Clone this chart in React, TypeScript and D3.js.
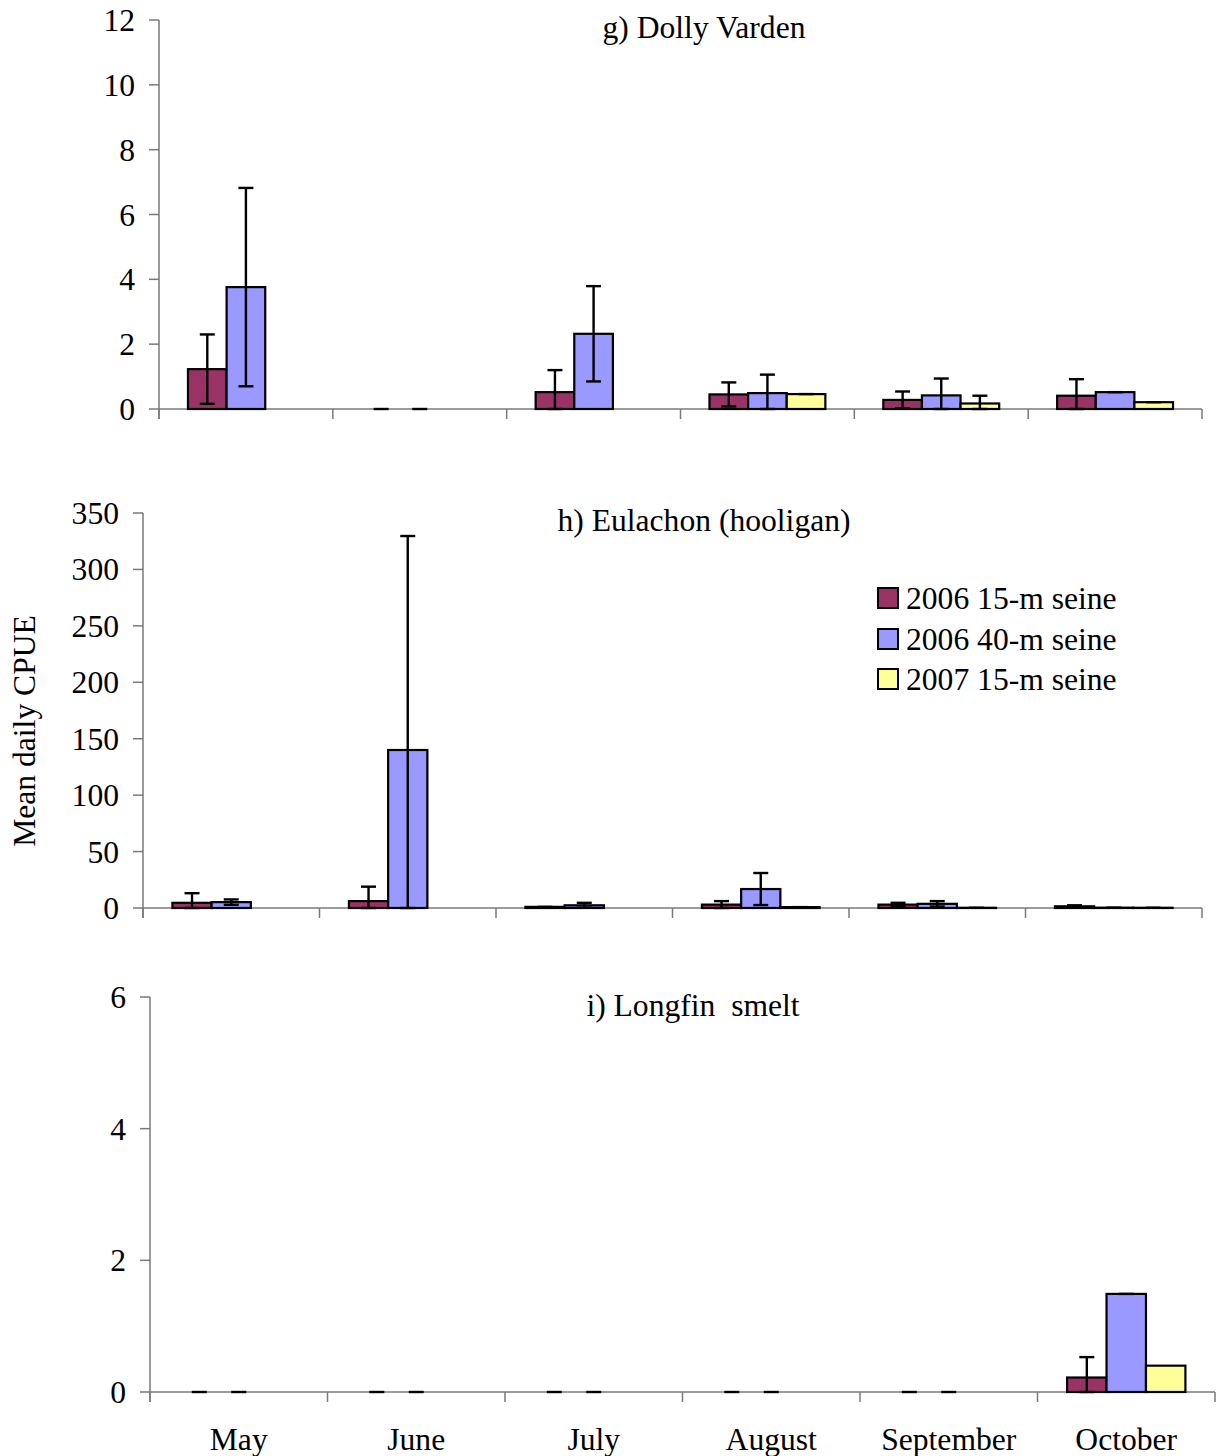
import React from "react";
import * as d3 from "d3";

const months = ["May", "June", "July", "August", "September", "October"];
const seriesNames = ["2006 15-m seine", "2006 40-m seine", "2007 15-m seine"];
const seriesColors = ["#993366", "#9999FF", "#FFFF99"];

// g) Dolly Varden
const gMean15 = [1.23, 0, 0.52, 0.45, 0.28, 0.41];
const gErr15 = [1.07, 0, 0.68, 0.37, 0.26, 0.51];
const gMean40 = [3.76, 0, 2.32, 0.49, 0.42, 0.52];
const gErr40 = [3.06, 0, 1.47, 0.57, 0.52, 0];
const gMean07 = [null, null, null, 0.46, 0.17, 0.21];
const gErr07 = [null, null, null, 0, 0.24, 0];
const gTicks = [0, 2, 4, 6, 8, 10, 12];

// h) Eulachon (hooligan)
const hMean15 = [4.6, 6.1, 1.0, 3.0, 3.0, 1.5];
const hErr15 = [8.5, 12.8, 0, 3.1, 1.6, 0.9];
const hMean40 = [5.2, 140, 2.4, 16.8, 3.7, 0.3];
const hErr40 = [2.4, 189.6, 2.2, 14.2, 2.4, 0];
const hMean07 = [null, null, null, 0.8, 0.2, 0.2];
const hErr07 = [null, null, null, 0, 0, 0];
const hTicks = [0, 50, 100, 150, 200, 250, 300, 350];

// i) Longfin smelt
const iMean15 = [0, 0, 0, 0, 0, 0.22];
const iErr15 = [0, 0, 0, 0, 0, 0.31];
const iMean40 = [0, 0, 0, 0, 0, 1.49];
const iErr40 = [0, 0, 0, 0, 0, 0];
const iMean07 = [null, null, null, null, null, 0.4];
const iErr07 = [null, null, null, null, null, null];
const iTicks = [0, 2, 4, 6];

type Panel = {
  title: string;
  titleX: number;
  titleY: number;
  x0: number;
  x1: number;
  yTop: number;
  yBottom: number;
  max: number;
  ticks: number[];
  means: (number | null)[][];
  errs: (number | null)[][];
  showMonths: boolean;
};

const panels: Panel[] = [
  {
    title: "g) Dolly Varden", titleX: 704, titleY: 27,
    x0: 159, x1: 1202, yTop: 20, yBottom: 409, max: 12, ticks: gTicks,
    means: [gMean15, gMean40, gMean07], errs: [gErr15, gErr40, gErr07], showMonths: false,
  },
  {
    title: "h) Eulachon (hooligan)", titleX: 704, titleY: 520,
    x0: 143, x1: 1202, yTop: 513, yBottom: 908, max: 350, ticks: hTicks,
    means: [hMean15, hMean40, hMean07], errs: [hErr15, hErr40, hErr07], showMonths: false,
  },
  {
    title: "i) Longfin\u00a0\u00a0smelt", titleX: 693, titleY: 1005,
    x0: 150, x1: 1215, yTop: 997, yBottom: 1392, max: 6, ticks: iTicks,
    means: [iMean15, iMean40, iMean07], errs: [iErr15, iErr40, iErr07], showMonths: true,
  },
];

const FONT = "'Liberation Serif', 'Times New Roman', serif";
const FS = 31.6;
const AXIS = "#7a7a7a";

function PanelView({ p }: { p: Panel }) {
  const x = d3.scaleBand<string>().domain(months).range([p.x0, p.x1]).padding(0);
  const xs = d3.scaleBand<string>().domain(seriesNames).range([0, x.bandwidth()]).paddingInner(0).paddingOuter(0.75);
  const y = d3.scaleLinear().domain([0, p.max]).range([p.yBottom, p.yTop]);
  const bw = xs.bandwidth();
  const capW = 15;
  const els: React.ReactNode[] = [];
  months.forEach((m, mi) => {
    seriesNames.forEach((s, si) => {
      const v = p.means[si][mi];
      if (v === null || v === undefined) return;
      const bx = (x(m) as number) + (xs(s) as number);
      const cx = bx + bw / 2;
      if (v > 0) {
        els.push(
          <rect key={`b${mi}-${si}`} x={bx} y={y(v)} width={bw} height={y(0) - y(v)}
            fill={seriesColors[si]} stroke="#000" strokeWidth={2.2} />
        );
      }
      const e = p.errs[si][mi];
      if (e === null || e === undefined) return;
      const hi = v + e;
      const lo = Math.max(0, v - e);
      els.push(
        <g key={`e${mi}-${si}`} stroke="#000" strokeWidth={2.4}>
          {e > 0 && <line x1={cx} x2={cx} y1={y(hi)} y2={y(lo)} />}
          <line x1={cx - capW / 2} x2={cx + capW / 2} y1={y(hi)} y2={y(hi)} />
          {e > 0 && <line x1={cx - capW / 2} x2={cx + capW / 2} y1={y(lo)} y2={y(lo)} />}
        </g>
      );
    });
  });
  const xTickPos = d3.range(months.length + 1).map((i) => p.x0 + i * x.step());
  return (
    <g>
      {/* y axis */}
      <line x1={p.x0} x2={p.x0} y1={p.yTop} y2={p.yBottom + 10} stroke={AXIS} strokeWidth={1.5} />
      {p.ticks.map((t) => (
        <g key={`yt${t}`}>
          <line x1={p.x0 - 10} x2={p.x0} y1={y(t)} y2={y(t)} stroke={AXIS} strokeWidth={1.5} />
          <text x={p.x0 - 24} y={y(t)} dy="0.35em" textAnchor="end" fontFamily={FONT} fontSize={FS}>{t}</text>
        </g>
      ))}
      {/* x axis */}
      <line x1={p.x0} x2={p.x1} y1={p.yBottom} y2={p.yBottom} stroke={AXIS} strokeWidth={1.5} />
      {xTickPos.map((tx, i) => (
        <line key={`xt${i}`} x1={tx} x2={tx} y1={p.yBottom} y2={p.yBottom + 10} stroke={AXIS} strokeWidth={1.5} />
      ))}
      {els}
      {p.showMonths && months.map((m) => (
        <text key={`m${m}`} x={(x(m) as number) + x.bandwidth() / 2} y={1450} textAnchor="middle"
          fontFamily={FONT} fontSize={FS}>{m}</text>
      ))}
      <text x={p.titleX} y={p.titleY} dy="0.35em" textAnchor="middle" fontFamily={FONT} fontSize={FS}>{p.title}</text>
    </g>
  );
}

export default function App() {
  const legendY = [598, 639, 679];
  return (
    <svg width={1222} height={1456} style={{ position: "absolute", left: 0, top: 0, background: "#fff" }}>
      <rect x={0} y={0} width={1222} height={1456} fill="#fff" />
      {panels.map((p, i) => <PanelView key={i} p={p} />)}
      <g>
        {seriesNames.map((s, i) => (
          <g key={s}>
            <rect x={878} y={legendY[i] - 10} width={20} height={20} fill={seriesColors[i]} stroke="#000" strokeWidth={2} />
            <text x={906} y={legendY[i]} dy="0.35em" fontFamily={FONT} fontSize={FS}>{s}</text>
          </g>
        ))}
      </g>
      <text transform="translate(24,731) rotate(-90)" dy="0.35em" textAnchor="middle" fontFamily={FONT} fontSize={FS}>Mean daily CPUE</text>
    </svg>
  );
}
